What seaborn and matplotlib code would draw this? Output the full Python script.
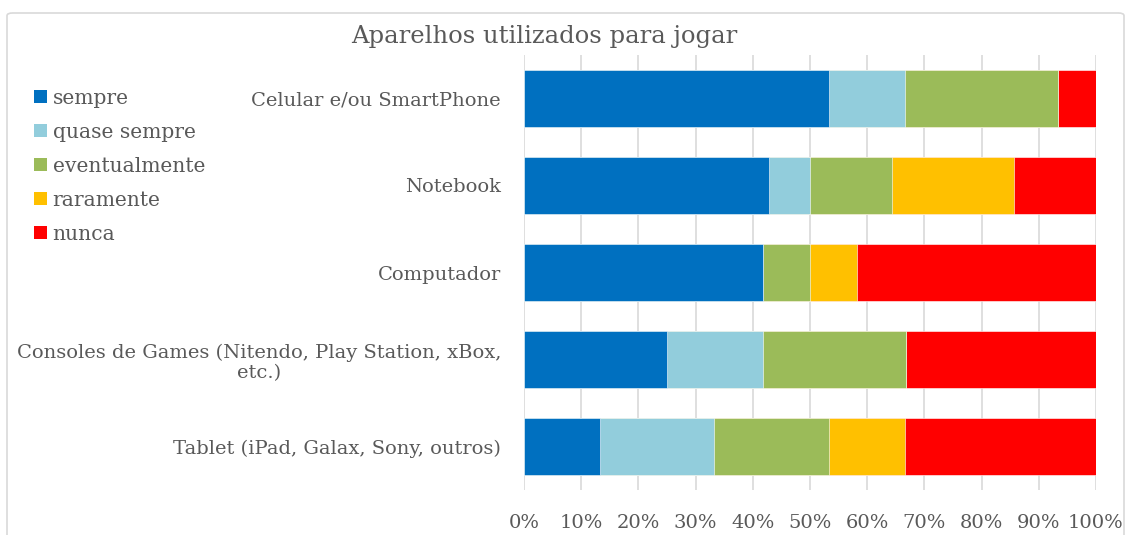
import matplotlib
matplotlib.use("Agg")
import matplotlib.pyplot as plt
import seaborn as sns
import pandas as pd
import numpy as np
from matplotlib.patches import Patch, FancyBboxPatch

categories = ["Celular e/ou SmartPhone", "Notebook", "Computador",
              "Consoles de Games (Nitendo, Play Station, xBox,\netc.)",
              "Tablet (iPad, Galax, Sony, outros)"]
series_names = ["sempre", "quase sempre", "eventualmente", "raramente", "nunca"]
sempre = [53.3, 42.9, 41.7, 25.0, 13.3]
quase_sempre = [13.3, 7.1, 0.0, 16.7, 20.0]
eventualmente = [26.7, 14.3, 8.3, 25.0, 20.0]
raramente = [0.0, 21.4, 8.3, 0.0, 13.3]
nunca = [6.7, 14.3, 41.7, 33.3, 33.4]
colors = ["#0070C0", "#92CDDC", "#9BBB59", "#FFC000", "#FF0000"]
xticks = [0, 10, 20, 30, 40, 50, 60, 70, 80, 90, 100]
xticklabels = [f"{t}%" for t in xticks]
title = "Aparelhos utilizados para jogar"

sns.set_theme(style="white")
plt.rcParams['font.family'] = ['DejaVu Serif']
txt = "#595959"

vals = np.array([sempre, quase_sempre, eventualmente, raramente, nunca])
vals = vals / vals.sum(axis=0) * 100
cum = np.cumsum(vals, axis=0)

fig = plt.figure(figsize=(11.31, 5.35), dpi=100)
ax = fig.add_axes([524/1131, 1-490/535, 572/1131, 435/535])

for i in range(len(series_names) - 1, -1, -1):
    df = pd.DataFrame({"cat": categories, "val": cum[i]})
    sns.barplot(data=df, x="val", y="cat", color=colors[i], ax=ax,
                width=0.66, saturation=1, orient="h", zorder=2,
                edgecolor="white", linewidth=0.4)

ax.set_xlim(0, 100)
ax.set_xticks(xticks)
ax.set_xticklabels(xticklabels, color=txt, fontsize=14)
ax.set_xlabel("")
ax.set_ylabel("")
ax.tick_params(axis="x", length=0, pad=17.5)
ax.tick_params(axis="y", length=0, pad=16.5, labelsize=14, labelcolor=txt)
for lab in ax.get_yticklabels():
    lab.set_multialignment("center")
ax.grid(axis="x", color="#D9D9D9", linewidth=1.2, zorder=0)
ax.set_axisbelow(True)
for s in ax.spines.values():
    s.set_visible(False)

fig.text(544/1131, 1-37/535, title, ha="center", va="center", fontsize=17.5, color=txt)

handles = [Patch(facecolor=c, edgecolor="none") for c in colors]
leg = fig.legend(handles, series_names, loc="upper left",
                 bbox_to_anchor=(34/1131, 1-89/535), frameon=False,
                 fontsize=14.6, handlelength=0.62, handleheight=0.62,
                 handletextpad=0.3, labelspacing=0.74, labelcolor=txt,
                 borderpad=0, borderaxespad=0)

border = FancyBboxPatch((7/1131, -0.05), (1124-7)/1131, (535-13)/535 + 0.05,
                        boxstyle="round,pad=0,rounding_size=0.005",
                        transform=fig.transFigure, fill=False,
                        edgecolor="#D9D9D9", linewidth=1.2)
fig.patches.append(border)

fig.savefig("out.png", dpi=100)
